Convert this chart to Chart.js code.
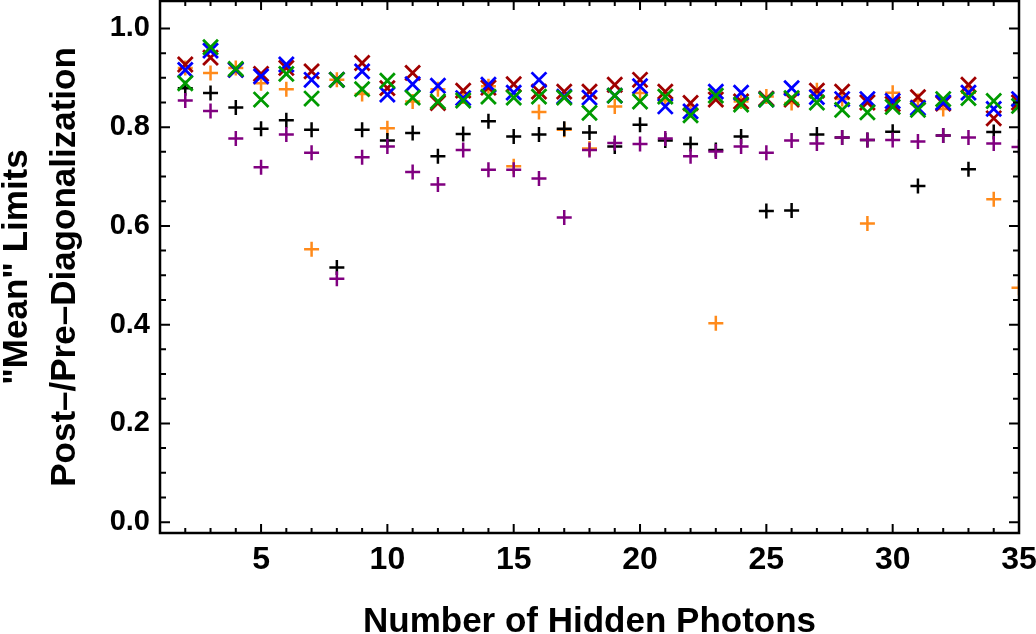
<!DOCTYPE html>
<html>
<head>
<meta charset="utf-8">
<script src="https://cdn.jsdelivr.net/npm/chart.js@4.4.1/dist/chart.umd.min.js"></script>
<style>
  html, body { margin: 0; padding: 0; background: #fff; overflow: hidden; }
  #wrap { width: 1036px; height: 634px; overflow: hidden; position: relative; }
  canvas { display: block; }
</style>
</head>
<body>
<div id="wrap"><canvas id="limitsChart" width="1060" height="660"></canvas></div>
<script>
"use strict";

// number of hidden photons
var photons = [2, 3, 4, 5, 6, 7, 8, 9, 10, 11, 12, 13, 14, 15, 16, 17, 18, 19, 20, 21, 22, 23, 24, 25, 26, 27, 28, 29, 30, 31, 32, 33, 34, 35];

// "X" series
var redX   = [0.927, 0.941, 0.916, 0.908, 0.920, 0.913, 0.896, 0.930, 0.879, 0.910, 0.849, 0.874, 0.880, 0.887, 0.872, 0.872, 0.872, 0.886, 0.896, 0.872, 0.849, 0.856, 0.852, 0.858, 0.856, 0.874, 0.872, 0.850, 0.847, 0.861, 0.848, 0.886, 0.818, 0.850];
var blueX  = [0.916, 0.955, 0.916, 0.903, 0.927, 0.896, 0.896, 0.913, 0.866, 0.887, 0.884, 0.859, 0.886, 0.870, 0.896, 0.862, 0.860, 0.864, 0.883, 0.842, 0.832, 0.872, 0.870, 0.856, 0.879, 0.861, 0.857, 0.857, 0.853, 0.839, 0.850, 0.870, 0.837, 0.857];
var greenX = [0.889, 0.962, 0.918, 0.856, 0.908, 0.858, 0.896, 0.877, 0.894, 0.860, 0.852, 0.854, 0.862, 0.860, 0.862, 0.860, 0.829, 0.864, 0.852, 0.862, 0.824, 0.864, 0.846, 0.856, 0.859, 0.850, 0.835, 0.830, 0.841, 0.835, 0.857, 0.859, 0.853, 0.843];

// "+" series
var orangePlus = [0.920, 0.910, 0.920, 0.889, 0.877, 0.553, 0.896, 0.867, 0.798, 0.852, 0.877, 0.862, 0.883, 0.721, 0.831, 0.795, 0.757, 0.842, 0.869, 0.854, 0.835, 0.403, 0.852, 0.862, 0.849, 0.875, 0.857, 0.605, 0.870, 0.853, 0.837, 0.870, 0.654, 0.475];
var blackPlus  = [0.879, 0.869, 0.840, 0.797, 0.814, 0.795, 0.516, 0.795, 0.773, 0.788, 0.741, 0.786, 0.812, 0.781, 0.785, 0.797, 0.789, 0.761, 0.805, 0.773, 0.766, 0.754, 0.781, 0.630, 0.631, 0.785, 0.779, 0.774, 0.791, 0.681, 0.783, 0.715, 0.790, 0.845];
var purplePlus = [0.854, 0.833, 0.777, 0.719, 0.785, 0.748, 0.493, 0.739, 0.761, 0.709, 0.684, 0.754, 0.714, 0.714, 0.696, 0.617, 0.754, 0.768, 0.766, 0.777, 0.741, 0.751, 0.761, 0.748, 0.773, 0.767, 0.779, 0.774, 0.774, 0.771, 0.783, 0.779, 0.767, 0.760];

// tick labels
var xTickValues = [5, 10, 15, 20, 25, 30, 35];
var yTickValues = [0, 0.2, 0.4, 0.6, 0.8, 1.0];

function toPoints(values) {
    return photons.map(function(n, i) { return { x: n, y: values[i] }; });
}

function series(values, color, style, radius, width, order) {
    return {
        data: toPoints(values),
        pointStyle: style,
        pointRadius: radius,
        pointHoverRadius: radius,
        pointBorderWidth: width,
        pointBorderColor: color,
        pointBackgroundColor: color,
        borderColor: color,
        backgroundColor: color,
        clip: 0,
        order: order
    };
}

// frame on all four sides with inward ticks, like the original
var frameTicks = {
    id: 'frameTicks',
    afterDatasetsDraw: function(chart) {
        var ctx = chart.ctx;
        var a = chart.chartArea;
        var xs = chart.scales.x;
        var ys = chart.scales.y;
        ctx.save();
        ctx.strokeStyle = '#000';
        ctx.lineWidth = 2;
        ctx.beginPath();
        for (var n = 1; n <= 35; n++) {
            var px = xs.getPixelForValue(n);
            var len = (n % 5 === 0) ? 9 : 5;
            ctx.moveTo(px, a.bottom); ctx.lineTo(px, a.bottom - len);
            ctx.moveTo(px, a.top); ctx.lineTo(px, a.top + len);
        }
        for (var k = 0; k <= 20; k++) {
            var py = ys.getPixelForValue(k * 0.05);
            var ylen = (k % 4 === 0) ? 10 : 6;
            ctx.moveTo(a.left, py); ctx.lineTo(a.left + ylen, py);
            ctx.moveTo(a.right, py); ctx.lineTo(a.right - ylen, py);
        }
        ctx.stroke();
        ctx.lineWidth = 2.5;
        ctx.strokeRect(a.left, a.top, a.right - a.left, a.bottom - a.top);
        ctx.restore();
    }
};

var bold = "'Liberation Sans', Arial, sans-serif";

new Chart(document.getElementById('limitsChart').getContext('2d'), {
    type: 'scatter',
    data: {
        datasets: [
            series(orangePlus, '#ff8a1a', 'cross', 7.5, 2.5, 6),
            series(blackPlus, '#000000', 'cross', 7.5, 2.5, 5),
            series(purplePlus, '#800080', 'cross', 7.5, 2.5, 4),
            series(redX, '#a00000', 'crossRot', 10.5, 2.8, 3),
            series(blueX, '#0000ff', 'crossRot', 10.5, 2.8, 2),
            series(greenX, '#009a00', 'crossRot', 10.5, 2.8, 1)
        ]
    },
    options: {
        responsive: false,
        animation: false,
        devicePixelRatio: 1,
        layout: { autoPadding: false, padding: { left: 0, right: 41, top: 1, bottom: 0 } },
        plugins: {
            legend: { display: false },
            tooltip: { enabled: false }
        },
        scales: {
            x: {
                type: 'linear',
                min: 1,
                max: 35,
                grid: { display: false, drawTicks: false },
                border: { display: false },
                afterBuildTicks: function(scale) {
                    scale.ticks = xTickValues.map(function(v) { return { value: v }; });
                },
                afterFit: function(scale) {
                    scale.height = 127;
                    scale.paddingLeft = 0;
                    scale.paddingRight = 0;
                },
                ticks: {
                    color: '#000',
                    padding: 8,
                    maxRotation: 0,
                    autoSkip: false,
                    font: { family: bold, size: 32, weight: 'bold', lineHeight: 1.2 }
                },
                title: {
                    display: true,
                    text: 'Number of Hidden Photons',
                    color: '#000',
                    padding: { top: 0, bottom: 20 },
                    font: { family: bold, size: 35, weight: 'bold', lineHeight: 1.0 }
                }
            },
            y: {
                min: -0.022,
                max: 1.0556,
                grid: { display: false, drawTicks: false },
                border: { display: false },
                afterBuildTicks: function(scale) {
                    scale.ticks = yTickValues.map(function(v) { return { value: v }; });
                },
                afterFit: function(scale) {
                    scale.width = 160;
                    scale.paddingTop = 0;
                    scale.paddingBottom = 0;
                },
                ticks: {
                    color: '#000',
                    padding: 10,
                    font: { family: bold, size: 29, weight: 'bold' },
                    callback: function(v) { return Number(v).toFixed(1); }
                },
                title: {
                    display: true,
                    text: ['"Mean" Limits', 'Post\u2013/Pre\u2013Diagonalization'],
                    color: '#000',
                    padding: { top: -6, bottom: 0 },
                    font: { family: bold, size: 35, weight: 'bold', lineHeight: 1.36 }
                }
            }
        }
    },
    plugins: [frameTicks]
});
</script>
</body>
</html>
